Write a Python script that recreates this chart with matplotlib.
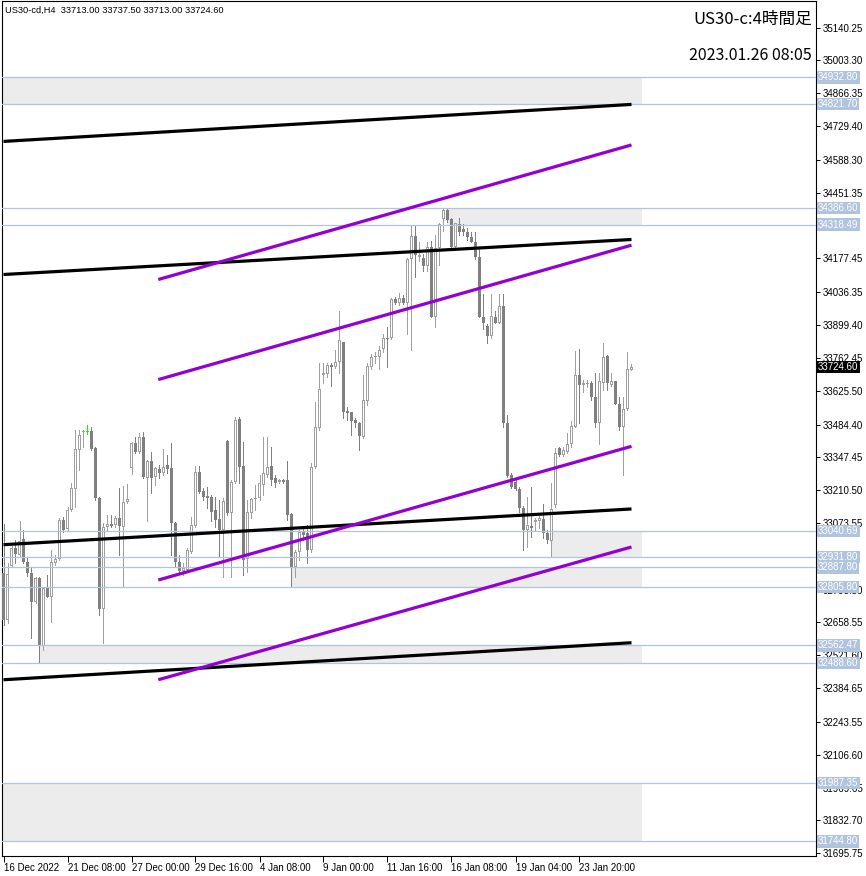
import matplotlib
matplotlib.use("Agg")
import matplotlib.pyplot as plt
from matplotlib.patches import Rectangle
from matplotlib.transforms import blended_transform_factory

plt.rcParams['font.family'] = ['Liberation Sans', 'DejaVu Sans']

# ---- H4 candles, US30-cd, 16 Dec 2022 .. 26 Jan 2023 ----
opens = [32866, 32670, 32895, 32970, 32941, 33008, 32912, 32866, 32745, 32845,
         32561, 32803, 32766, 32908, 32925, 33087, 33050, 33129, 33217, 33380,
         33455, 33455, 33459, 33388, 33179, 32716, 33058, 33071, 33066, 33096,
         33058, 33162, 33304, 33409, 33371, 33434, 33263, 33334, 33267, 33300,
         33284, 33317, 33304, 33075, 32912, 32874, 32879, 32954, 33062, 33288,
         33208, 33188, 33183, 33129, 33092, 33046, 33417, 33117, 33246, 33509,
         33313, 32925, 33117, 33175, 33179, 33234, 33275, 33313, 33263, 33246,
         33254, 33254, 33112, 32891, 32954, 33037, 33033, 32962, 33309, 33471,
         33689, 33697, 33734, 33726, 33747, 33830, 33542, 33538, 33505, 33492,
         33434, 33584, 33726, 33768, 33768, 33801, 33847, 33847, 34010, 33993,
         34014, 33993, 34173, 34273, 34185, 34181, 34144, 34223, 33935, 34219,
         34340, 34380, 34340, 34223, 34319, 34302, 34286, 34265, 34244, 34185,
         33935, 33897, 33852, 33935, 33910, 33977, 33492, 33275, 33246, 33217,
         33138, 33046, 33062, 33079, 33083, 33092, 33033, 33000, 33150, 33388,
         33359, 33371, 33401, 33476, 33689, 33651, 33655, 33659, 33601, 33492,
         33659, 33772, 33651, 33664, 33572, 33472, 33551, 33713.0]
highs = [33071, 32908, 32979, 33004, 33083, 33046, 32933, 32887, 32849, 32849,
         32808, 32858, 32962, 32941, 33096, 33100, 33142, 33242, 33463, 33463,
         33463, 33484, 33476, 33390, 33183, 33075, 33108, 33108, 33104, 33221,
         33229, 33238, 33413, 33434, 33451, 33455, 33338, 33371, 33309, 33317,
         33384, 33359, 33409, 33079, 32941, 32908, 32970, 33100, 33313, 33313,
         33221, 33225, 33192, 33183, 33171, 33179, 33421, 33254, 33517, 33517,
         33413, 33171, 33179, 33234, 33275, 33434, 33434, 33392, 33275, 33259,
         33259, 33334, 33117, 32962, 33046, 33050, 33066, 33325, 33580, 33739,
         33739, 33743, 33743, 33797, 33960, 33830, 33559, 33538, 33513, 33496,
         33693, 33743, 33780, 33789, 33810, 33860, 33893, 34014, 34018, 34035,
         34023, 34181, 34311, 34311, 34244, 34194, 34244, 34252, 34277, 34327,
         34385, 34386.6, 34344, 34327, 34348, 34319, 34306, 34286, 34286, 34227,
         34027, 33902, 34027, 33956, 34027, 34027, 33526, 33284, 33254, 33225,
         33146, 33183, 33225, 33096, 33104, 33154, 33046, 33242, 33388, 33392,
         33392, 33451, 33497, 33793, 33801, 33672, 33672, 33664, 33701, 33701,
         33826, 33776, 33701, 33664, 33601, 33601, 33789, 33737.5]
lows = [32649, 32657, 32891, 32908, 32933, 32908, 32854, 32595, 32741, 32488.6,
        32545, 32764, 32662, 32900, 32920, 33037, 33046, 33125, 33142, 33296,
        33392, 33446, 33380, 33171, 32691, 32574, 33046, 33058, 33058, 32941,
        32812, 33158, 33279, 33367, 33367, 33263, 33083, 33200, 33233, 33263,
        33275, 33284, 32941, 32891, 32862, 32858, 32870, 32950, 33058, 33200,
        33171, 33137, 33083, 33058, 32933, 32849, 33108, 32849, 33242, 33242,
        32858, 32870, 33096, 33129, 33171, 33192, 33267, 33234, 33225, 33242,
        33242, 33087, 32805.8, 32849, 32920, 33004, 32908, 32954, 33304, 33463,
        33659, 33684, 33643, 33722, 33701, 33513, 33505, 33442, 33476, 33380,
        33430, 33567, 33714, 33739, 33714, 33789, 33726, 33843, 33989, 33985,
        33989, 33860, 33797, 34098, 34165, 34123, 34123, 33931, 33893, 34152,
        34290, 34331, 34219, 34219, 34277, 34277, 34256, 34244, 34177, 33934,
        33881, 33826, 33847, 33910, 33910, 33472, 33267, 33221, 33213, 33121,
        32962, 32975, 33016, 33046, 33054, 33012, 32991, 32931.8, 33142, 33351,
        33351, 33367, 33392, 33476, 33492, 33618, 33639, 33588, 33472, 33401,
        33630, 33630, 33643, 33568, 33463, 33275, 33547, 33713.0]
closes = [32670, 32862, 32970, 32945, 33000, 32912, 32866, 32745, 32845, 32561,
          32803, 32766, 32912, 32925, 33087, 33046, 33129, 33221, 33384, 33442,
          33459, 33455, 33384, 33179, 32716, 33058, 33071, 33062, 33096, 33062,
          33162, 33175, 33409, 33371, 33434, 33267, 33334, 33263, 33304, 33280,
          33309, 33300, 33075, 32912, 32874, 32887, 32962, 33066, 33288, 33204,
          33183, 33179, 33121, 33087, 33046, 33167, 33117, 33246, 33505, 33309,
          32920, 33121, 33175, 33179, 33242, 33280, 33309, 33254, 33242, 33254,
          33246, 33108, 32891, 32954, 33037, 33025, 32962, 33309, 33476, 33634,
          33701, 33734, 33726, 33747, 33835, 33538, 33534, 33501, 33492, 33438,
          33588, 33730, 33768, 33772, 33797, 33847, 33843, 34010, 33993, 34014,
          33993, 34177, 34273, 34190, 34190, 34144, 34223, 33935, 34219, 34319,
          34381, 34336, 34223, 34327, 34286, 34286, 34265, 34244, 34185, 33935,
          33906, 33852, 33939, 33910, 33977, 33492, 33271, 33225, 33217, 33138,
          33046, 33066, 33054, 33087, 33096, 33033, 33004, 33133, 33367, 33359,
          33376, 33405, 33480, 33689, 33651, 33659, 33659, 33601, 33492, 33664,
          33768, 33659, 33664, 33572, 33472, 33551, 33718, 33724.6]

# time-axis labels every 16 bars
time_label_bars = [0, 16, 32, 48, 64, 80, 96, 112, 128, 144]
time_labels = ["16 Dec 2022", "21 Dec 08:00", "27 Dec 00:00", "29 Dec 16:00",
               "4 Jan 08:00", "9 Jan 00:00", "11 Jan 16:00", "16 Jan 08:00",
               "19 Jan 04:00", "23 Jan 20:00"]

# price-scale ticks (two of them sit fully under level tags and carry no text)
price_ticks = [35140.25, 35003.30, 34866.35, 34729.40, 34588.30, 34451.35,
               34314.40, 34177.45, 34036.35, 33899.40, 33762.45, 33625.50,
               33484.40, 33347.45, 33210.50, 33073.55, 32936.60, 32795.50,
               32658.55, 32521.60, 32384.65, 32243.55, 32106.60, 31969.65,
               31832.70, 31695.75]
covered_ticks = [34314.40, 32936.60]

# horizontal support / resistance levels
levels = [34932.80, 34821.70, 34386.60, 34318.49, 33040.69, 32931.80,
          32887.80, 32805.80, 32562.47, 32488.60, 31987.35, 31744.80]

# shaded zones: (upper, lower, anchor bar; None = from chart start)
zone_tops = [34932.80, 34386.60, 33040.69, 32887.80, 32562.47, 31987.35]
zone_bottoms = [34821.70, 34318.49, 32931.80, 32805.80, 32488.60, 31744.80]
zone_anchor_bars = [None, 111, 137, 72, 9, None]

# channel lines: (bar0, price0, bar1, price1)
black_lines = [(0, 34665.6, 157, 34820.0),
               (0, 34110.3, 157, 34256.4),
               (0, 32983.0, 157, 33132.0),
               (0, 32419.4, 157, 32573.9)]
violet_lines = [(38.7, 34089.4, 157, 34650.9),
                (38.7, 33671.9, 157, 34232.6),
                (38.7, 32835.6, 157, 33393.4),
                (38.7, 32419.4, 157, 32973.4)]

current_price = closes[-1]

# ---- figure ----
W, H = 866, 876
fig = plt.figure(figsize=(W / 100, H / 100), dpi=100)
plot_h_px = 856 - 1
ax = fig.add_axes([2 / W, (H - 856) / H, (816 - 2) / W, plot_h_px / H])
ax.set_facecolor("white")
n = len(opens)
x_left, x_right = -0.375, 203.125
y_lo, y_hi = 31684.0, 35251.5
ax.set_xlim(x_left, x_right)
ax.set_ylim(y_lo, y_hi)
one_px = (y_hi - y_lo) / plot_h_px      # price span of one screen pixel

zone_end = n - 1 + 2.6
for top, bot, anchor in zip(zone_tops, zone_bottoms, zone_anchor_bars):
    x0 = x_left if anchor is None else anchor
    ax.add_patch(Rectangle((x0, bot), zone_end - x0, top - bot,
                           facecolor="#ececec", edgecolor="none", zorder=1))

bull_col, bear_col, doji_col = "#a0a0a0", "#808080", "#00ff00"
outer_w, inner_w = 0.725, 0.225
for i, (o, h, l, c) in enumerate(zip(opens, highs, lows, closes)):
    if o == c:
        col = doji_col
    elif c > o:
        col = bull_col
    else:
        col = bear_col
    ax.vlines(i, l, h, color=col, lw=0.72, zorder=2, antialiased=False)
    lo_b, hi_b = min(o, c), max(o, c)
    if hi_b - lo_b < one_px:
        mid = (hi_b + lo_b) / 2
        lo_b, hi_b = mid - one_px / 2, mid + one_px / 2
    ax.add_patch(Rectangle((i - outer_w / 2, lo_b), outer_w, hi_b - lo_b,
                           facecolor=col, edgecolor="none", zorder=3,
                           antialiased=False))
    if c > o and hi_b - lo_b > 2.2 * one_px:
        ax.add_patch(Rectangle((i - inner_w / 2, lo_b + one_px), inner_w,
                               hi_b - lo_b - 2 * one_px, facecolor="white",
                               edgecolor="none", zorder=3.5,
                               antialiased=False))

for lv in levels:
    ax.axhline(lv, color="#b0c4de", lw=0.9, zorder=4)

for b0, p0, b1, p1 in black_lines:
    ax.plot([b0, b1], [p0, p1], color="black", lw=2.3, zorder=5,
            solid_capstyle="butt")
for b0, p0, b1, p1 in violet_lines:
    ax.plot([b0, b1], [p0, p1], color="#9400d3", lw=2.3, zorder=5,
            solid_capstyle="butt")

# axes styling
for s in ax.spines.values():
    s.set_color("black")
    s.set_linewidth(0.8)
ax.yaxis.tick_right()
ax.set_yticks(price_ticks)
ax.set_yticklabels(["" if v in covered_ticks else f"{v:.2f}"
                    for v in price_ticks])
ax.tick_params(axis="y", direction="out", length=3, width=0.7, pad=2,
               labelsize=7, colors="black")
ax.set_xticks(time_label_bars)
ax.set_xticklabels(time_labels, ha="left")
ax.tick_params(axis="x", direction="out", length=4, width=0.7, pad=1,
               labelsize=7, colors="black")

trans = blended_transform_factory(ax.transAxes, ax.transData)
for lv in levels:
    ax.annotate(f"{lv:.2f}", xy=(1, lv), xycoords=trans, xytext=(1.5, 0),
                textcoords="offset points", ha="left", va="center",
                fontsize=7, color="white", zorder=10, annotation_clip=False,
                bbox=dict(boxstyle="square,pad=0.12", fc="#b0c4de", ec="none"))
ax.annotate(f"{current_price:.2f}", xy=(1, current_price), xycoords=trans,
            xytext=(1.5, 0), textcoords="offset points", ha="left",
            va="center", fontsize=7, color="white", zorder=11,
            annotation_clip=False,
            bbox=dict(boxstyle="square,pad=0.12", fc="black", ec="none"))

fig.text(5 / W, 1 - 10 / H,
         f"US30-cd,H4  {opens[-1]:.2f} {highs[-1]:.2f} {lows[-1]:.2f} {closes[-1]:.2f}",
         ha="left", va="center", fontsize=6.7, color="black")
cjk = ["Noto Sans CJK JP", "DejaVu Sans"]
fig.text(812 / W, 1 - 19 / H, "US30-c:4時間足", ha="right", va="center",
         fontsize=12, family=cjk, color="black")
fig.text(812 / W, 1 - 55 / H, "2023.01.26 08:05", ha="right", va="center",
         fontsize=11.5, family=cjk, color="black")

fig.savefig("out.png", dpi=100, facecolor="white")
